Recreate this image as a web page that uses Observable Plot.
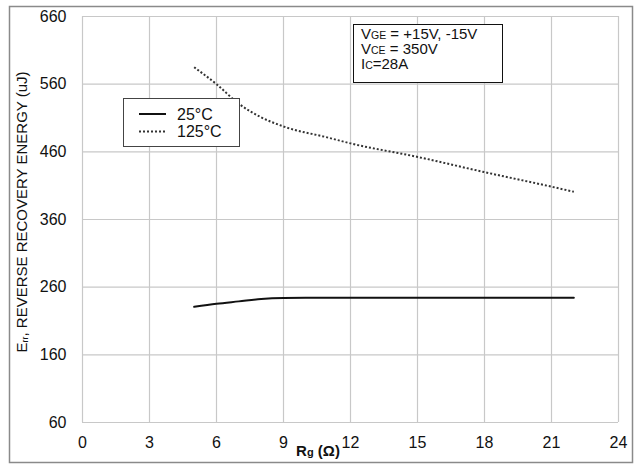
<!DOCTYPE html>
<html>
<head>
<meta charset="utf-8">
<script src="https://cdn.jsdelivr.net/npm/d3@7"></script>
<script src="https://cdn.jsdelivr.net/npm/@observablehq/plot@0.6"></script>
<style>
  html, body { margin: 0; padding: 0; background: #fff; }
  svg { display: block; }
</style>
</head>
<body>
<div id="chart"></div>
<script>
// Data
const rg25  = [5, 6, 7, 8, 9, 10, 12, 15, 18, 21, 22];
const e25   = [231, 235.5, 239, 242.5, 244, 244.3, 244.5, 244.5, 244.5, 244.5, 244.5];
const rg125 = [5, 6, 7, 8, 9, 11, 12, 15, 18, 21, 22];
const e125  = [585, 560, 531, 511, 497.5, 481, 472.5, 452.5, 430, 408.5, 401];
const xTicks = [0, 3, 6, 9, 12, 15, 18, 21, 24];
const yTicks = [60, 160, 260, 360, 460, 560, 660];
const seriesNames = ["25°C", "125°C"];
const condLines = [["V", "GE", " = +15V, -15V"], ["V", "CE", " = 350V"], ["I", "C", "=28A"]];

const data25 = rg25.map((x, i) => ({rg: x, e: e25[i]}));
const data125 = rg125.map((x, i) => ({rg: x, e: e125[i]}));

const font = "'Liberation Sans', Arial, sans-serif";
const chart = Plot.plot({
  width: 634, height: 464,
  marginLeft: 82, marginRight: 16, marginTop: 16, marginBottom: 42,
  style: {fontFamily: font, fontSize: "16px", background: "white", color: "#111"},
  x: {domain: [0, 24], ticks: xTicks, label: null, tickSize: 0, tickPadding: 14},
  y: {domain: [60, 660], ticks: yTicks, label: null, tickSize: 0, tickPadding: 16},
  marks: [
    Plot.gridX(xTicks, {stroke: "#c8c8c8", strokeOpacity: 1, strokeWidth: 1.2}),
    Plot.gridY(yTicks, {stroke: "#c8c8c8", strokeOpacity: 1, strokeWidth: 1.2}),
    Plot.line(data125, {x: "rg", y: "e", curve: "monotone-x", stroke: "#333", strokeWidth: 2,
      strokeDasharray: "2,2", strokeLinecap: "butt"}),
    Plot.line(data25, {x: "rg", y: "e", curve: "monotone-x", stroke: "#111", strokeWidth: 2})
  ]
});
document.getElementById("chart").appendChild(chart);

const svg = d3.select(chart);
// outer frame
svg.append("rect").attr("x", 9.5).attr("y", 6.5).attr("width", 623).attr("height", 456)
  .attr("fill", "none").attr("stroke", "#8a8a8a").attr("stroke-width", 1.5);

// legend
const lg = svg.append("g").attr("text-anchor", "start");
lg.append("rect").attr("x", 123.5).attr("y", 98.5).attr("width", 116).attr("height", 48)
  .attr("fill", "white").attr("stroke", "#444").attr("stroke-width", 1);
lg.append("line").attr("x1", 139).attr("x2", 166).attr("y1", 114).attr("y2", 114)
  .attr("stroke", "#111").attr("stroke-width", 2);
lg.append("line").attr("x1", 139).attr("x2", 166).attr("y1", 131.5).attr("y2", 131.5)
  .attr("stroke", "#333").attr("stroke-width", 2).attr("stroke-dasharray", "2,2");
seriesNames.forEach((n, i) => {
  lg.append("text").attr("x", 177).attr("y", 114 + i * 17.5).attr("dy", "0.35em")
    .attr("text-anchor", "start")
    .attr("font-family", font).attr("font-size", 16).attr("fill", "#111").text(n);
});

// conditions box
const cb = svg.append("g").attr("text-anchor", "start");
cb.append("rect").attr("x", 353.5).attr("y", 24.5).attr("width", 149).attr("height", 58)
  .attr("fill", "white").attr("stroke", "#111").attr("stroke-width", 1);
condLines.forEach((parts, i) => {
  const t = cb.append("text").attr("x", 361).attr("y", 38.5 + i * 15)
    .attr("text-anchor", "start")
    .attr("font-family", font).attr("font-size", 15).attr("fill", "#111");
  t.append("tspan").text(parts[0]);
  t.append("tspan").attr("font-size", 10.5).text(parts[1]);
  t.append("tspan").text(parts[2]);
});

// y axis title
const yt = svg.append("text").attr("transform", "translate(27,212) rotate(-90)")
  .attr("text-anchor", "middle").attr("font-family", font).attr("font-size", 15).attr("fill", "#111");
yt.append("tspan").text("E");
yt.append("tspan").attr("font-size", 9).attr("dy", 1).text("rr");
yt.append("tspan").attr("dy", -1).text(", REVERSE RECOVERY ENERGY (uJ)");

// x axis title
const xt = svg.append("text").attr("x", 318).attr("y", 456)
  .attr("text-anchor", "middle").attr("font-family", font).attr("font-size", 15)
  .attr("font-weight", "bold").attr("fill", "#111");
xt.append("tspan").text("R");
xt.append("tspan").attr("font-size", 11).text("g");
xt.append("tspan").text(" (Ω)");
</script>
</body>
</html>
